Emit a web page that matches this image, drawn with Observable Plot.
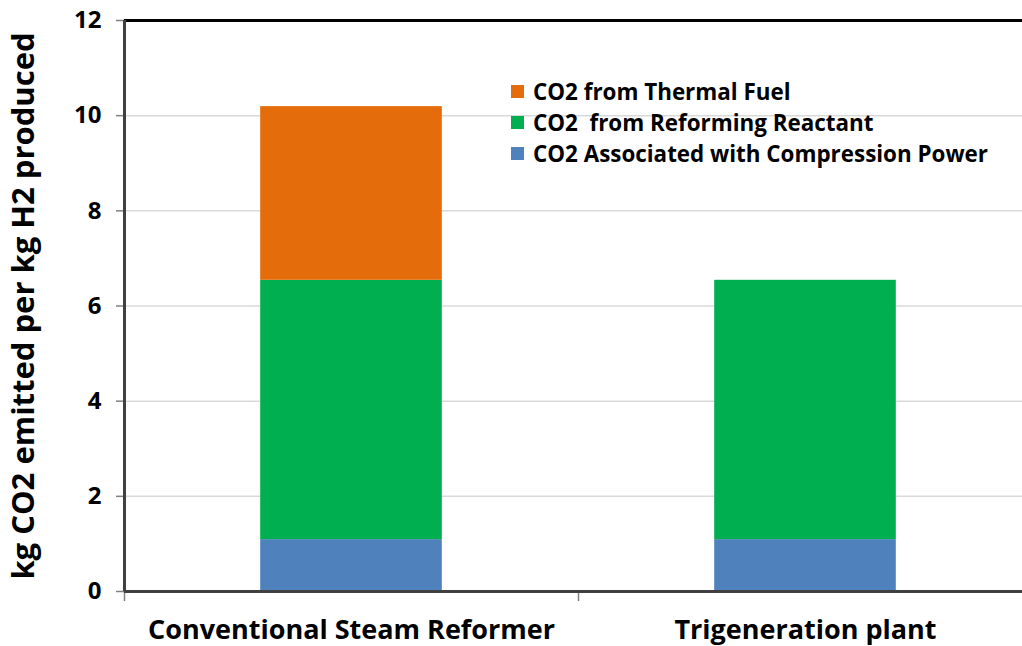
<!DOCTYPE html>
<html>
<head>
<meta charset="utf-8">
<script src="https://cdn.jsdelivr.net/npm/d3@7"></script>
<script src="https://cdn.jsdelivr.net/npm/@observablehq/plot@0.6"></script>
<style>
  html, body { margin: 0; padding: 0; background: #fff; }
  #wrap { position: relative; width: 1022px; height: 646px; overflow: hidden; font-family: "Open Sans", Lato, sans-serif; }
  #legend { position: absolute; left: 511px; top: 76px; font-weight: 700; font-size: 22.4px; color: #000; }
  #legend .item { display: flex; align-items: center; height: 31px; }
  #legend .sw { width: 13px; height: 13px; margin-right: 9px; }
</style>
</head>
<body>
<div id="wrap"><div id="chart"></div><div id="legend"></div></div>
<script>
const categories = ["Conventional Steam Reformer", "Trigeneration plant"];
const series = ["CO2 Associated with Compression Power", "CO2  from Reforming Reactant", "CO2 from Thermal Fuel"];
const colors = ["#4F81BD", "#00B050", "#E46C0A"];
const compressionPower = [1.09, 1.09];
const reformingReactant = [5.45, 5.45];
const thermalFuel = [3.65, 0];
const yTicks = [0, 2, 4, 6, 8, 10, 12];
const legendOrder = [2, 1, 0];

const values = [compressionPower, reformingReactant, thermalFuel];
const rows = [];
categories.forEach((c, i) => {
  series.forEach((s, j) => {
    rows.push({category: c, idx: i, series: s, value: values[j][i]});
  });
});

const chart = Plot.plot({
  width: 1022,
  height: 646,
  marginLeft: 124,
  marginRight: -10,
  marginTop: 20,
  marginBottom: 55,
  style: {fontFamily: "'Open Sans', Lato, sans-serif", background: "#fff"},
  x: {domain: [0, categories.length], axis: null},
  y: {domain: [0, 12], axis: null},
  color: {domain: series, range: colors},
  marks: [
    Plot.gridY(yTicks.filter(t => t > 0 && t < 12), {stroke: "#d9d9d9", strokeOpacity: 1, strokeWidth: 1.5}),
    Plot.rectY(rows, {
      x1: d => d.idx + 0.3,
      x2: d => d.idx + 0.7,
      y: "value",
      fill: "series"
    }),
    Plot.axisY(yTicks, {
      tickSize: 8,
      tickPadding: 15,
      fontSize: 24,
      fontWeight: "bold",
      fill: "#000",
      stroke: "#808080",
      strokeWidth: 1.5,
      label: null
    }),
    Plot.axisY({
      ticks: [],
      label: "kg CO2 emitted per kg H2 produced",
      labelAnchor: "center",
      labelArrow: "none",
      labelOffset: 113,
      fontSize: 31,
      fontWeight: "bold",
      fill: "#000"
    }),
    Plot.axisX([0, 1, 2], {
      tickSize: 10,
      tickFormat: () => "",
      stroke: "#808080",
      strokeWidth: 1.5,
      label: null
    }),
    Plot.text(categories, {
      x: (d, i) => i + 0.5,
      frameAnchor: "bottom",
      dy: 47,
      text: d => d,
      fontSize: 27,
      fontWeight: "bold",
      fill: "#000"
    }),
    Plot.ruleY([12], {stroke: "#000", strokeWidth: 3}),
    Plot.ruleY([0], {stroke: "#404040", strokeWidth: 3}),
    Plot.ruleX([0], {stroke: "#404040", strokeWidth: 3})
  ]
});
document.getElementById("chart").appendChild(chart);

const legend = d3.select("#legend");
legendOrder.forEach(j => {
  const it = legend.append("div").attr("class", "item");
  it.append("div").attr("class", "sw").style("background", colors[j]);
  it.append("span").style("white-space", "pre").text(series[j]);
});
</script>
</body>
</html>
